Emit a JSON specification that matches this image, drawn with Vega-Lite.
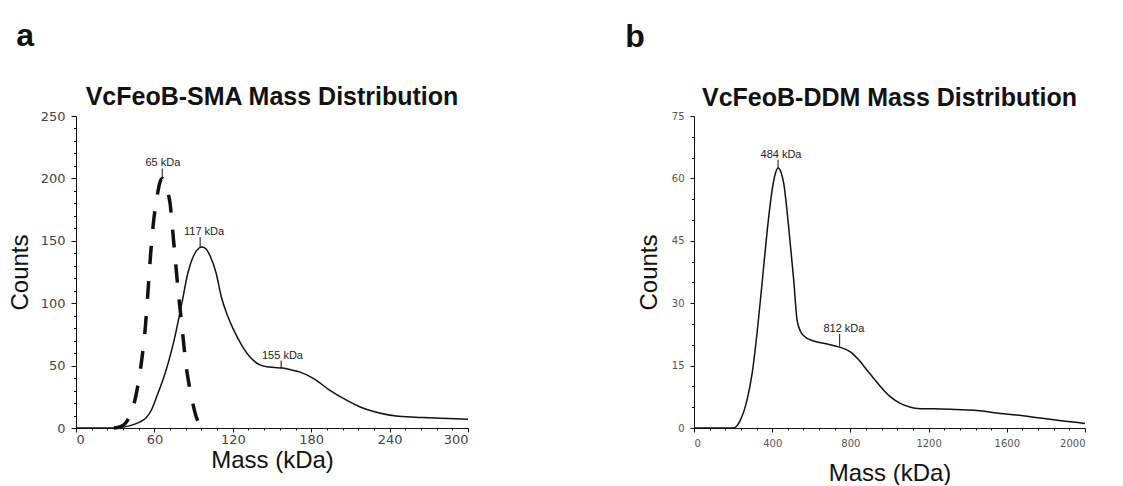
{
  "$schema": "https://vega.github.io/schema/vega-lite/v6.json",
  "background": "white",
  "padding": {"left": 8, "top": 20, "right": 5, "bottom": 0},
  "config": {"view": {"stroke": null}, "concat": {"spacing": 10}},
  "datasets": {
    "sma": [
      {"mass": 0, "count": 0}, {"mass": 15, "count": 0}, {"mass": 30, "count": 0}, {"mass": 33, "count": 0.3},
      {"mass": 40, "count": 1.5}, {"mass": 46, "count": 3.5}, {"mass": 50, "count": 5.5}, {"mass": 53.5, "count": 8},
      {"mass": 58, "count": 15}, {"mass": 61.7, "count": 25}, {"mass": 66, "count": 37}, {"mass": 70, "count": 50},
      {"mass": 75, "count": 70}, {"mass": 81, "count": 100}, {"mass": 85.8, "count": 125}, {"mass": 90, "count": 138},
      {"mass": 94, "count": 144}, {"mass": 96, "count": 145}, {"mass": 99, "count": 144}, {"mass": 103, "count": 137},
      {"mass": 107, "count": 125}, {"mass": 111.5, "count": 104}, {"mass": 116, "count": 90}, {"mass": 120, "count": 80},
      {"mass": 127, "count": 66}, {"mass": 133, "count": 57}, {"mass": 140, "count": 51}, {"mass": 146, "count": 49},
      {"mass": 152, "count": 48.5}, {"mass": 158, "count": 48}, {"mass": 165, "count": 46.5}, {"mass": 171, "count": 45},
      {"mass": 181.6, "count": 39.8}, {"mass": 194, "count": 30.4}, {"mass": 207, "count": 22.4}, {"mass": 220, "count": 15.8},
      {"mass": 233, "count": 11.8}, {"mass": 245, "count": 9.6}, {"mass": 260, "count": 8.7}, {"mass": 271, "count": 8.3},
      {"mass": 285, "count": 7.6}, {"mass": 300, "count": 7}
    ],
    "smaDash": [
      {"mass": 29, "count": 0}, {"mass": 34, "count": 1}, {"mass": 38, "count": 4},
      {"mass": 42, "count": 12}, {"mass": 45, "count": 22}, {"mass": 48, "count": 38}, {"mass": 50, "count": 52},
      {"mass": 53, "count": 80}, {"mass": 55, "count": 108}, {"mass": 57, "count": 138}, {"mass": 59, "count": 162},
      {"mass": 62, "count": 185}, {"mass": 64, "count": 196}, {"mass": 66, "count": 200}, {"mass": 68, "count": 197},
      {"mass": 70, "count": 190}, {"mass": 72, "count": 180}, {"mass": 74, "count": 158}, {"mass": 76, "count": 135},
      {"mass": 78, "count": 112}, {"mass": 80, "count": 92}, {"mass": 82, "count": 72}, {"mass": 84, "count": 52},
      {"mass": 86, "count": 38}, {"mass": 88, "count": 27}, {"mass": 90, "count": 17}, {"mass": 92, "count": 9},
      {"mass": 94, "count": 4}, {"mass": 96, "count": 1}, {"mass": 98, "count": 0}, {"mass": 101, "count": 0}
    ],
    "ddm": [
      {"mass": 0, "count": 0}, {"mass": 100, "count": 0}, {"mass": 200, "count": 0}, {"mass": 215, "count": 0.3},
      {"mass": 237, "count": 1.9}, {"mass": 255, "count": 4}, {"mass": 271, "count": 6.7}, {"mass": 297, "count": 13},
      {"mass": 322, "count": 22.6}, {"mass": 348, "count": 34.7}, {"mass": 373, "count": 46.8}, {"mass": 399, "count": 57},
      {"mass": 415, "count": 61}, {"mass": 430, "count": 62.5}, {"mass": 445, "count": 61.5}, {"mass": 459, "count": 58.8},
      {"mass": 484, "count": 48.4}, {"mass": 510, "count": 35.6}, {"mass": 527, "count": 26}, {"mass": 545, "count": 23.2},
      {"mass": 561, "count": 22.2}, {"mass": 612, "count": 20.9}, {"mass": 680, "count": 20.2}, {"mass": 740, "count": 19.5},
      {"mass": 800, "count": 18.3}, {"mass": 840, "count": 16.5}, {"mass": 885, "count": 13.9}, {"mass": 930, "count": 11.3},
      {"mass": 970, "count": 9.1}, {"mass": 1010, "count": 7.3}, {"mass": 1055, "count": 5.9}, {"mass": 1100, "count": 5.1},
      {"mass": 1141, "count": 4.7}, {"mass": 1230, "count": 4.6}, {"mass": 1311, "count": 4.5}, {"mass": 1448, "count": 4.2},
      {"mass": 1567, "count": 3.5}, {"mass": 1650, "count": 3.1}, {"mass": 1737, "count": 2.6}, {"mass": 1850, "count": 1.9},
      {"mass": 2000, "count": 1.1}
    ],
    "annSma": [
      {"label": "65 kDa", "mass": 66, "tx": 66.5, "ytop": 208, "ybot": 200},
      {"label": "117 kDa", "mass": 95, "tx": 98, "ytop": 153, "ybot": 145},
      {"label": "155 kDa", "mass": 157, "tx": 158, "ytop": 54, "ybot": 48}
    ],
    "annDdm": [
      {"label": "484 kDa", "mass": 430, "tx": 445, "ytop": 64.5, "ybot": 62.5},
      {"label": "812 kDa", "mass": 745, "tx": 767, "ytop": 22.6, "ybot": 19.6}
    ]
  },
  "hconcat": [
    {
      "title": {"text": "a", "anchor": "start", "frame": "bounds", "fontSize": 32, "fontWeight": "bold", "font": "Liberation Sans", "color": "#111", "offset": 32, "dx": 8},
      "vconcat": [
        {
          "width": 392,
          "height": 312,
          "title": {"text": "VcFeoB-SMA Mass Distribution", "fontSize": 25, "fontWeight": "bold", "font": "Liberation Sans", "color": "#111", "offset": 0},
          "layer": [
            {
              "data": {"name": "sma"},
              "mark": {"type": "line", "color": "#111", "strokeWidth": 1.5, "interpolate": "monotone"},
              "encoding": {
                "x": {"field": "mass", "type": "quantitative", "scale": {"domain": [0, 300], "nice": false},
                  "axis": {"values": [0, 12, 24, 36, 48, 60, 72, 84, 96, 108, 120, 132, 144, 156, 168, 180, 192, 204, 216, 228, 240, 252, 264, 276, 288, 300],
                    "tickCount": 1000, "format": "d",
                    "labelExpr": "datum.value % 60 === 0 ? datum.label : ''", "labelOverlap": false,
                    "tickSize": {"condition": {"test": "datum.value % 60 === 0", "value": 4}, "value": 2},
                    "orient": "bottom", "grid": false, "domainColor": "#111", "tickColor": "#111", "labelPadding": 1, "labelFont": "DejaVu Sans", "labelFontSize": 13, "labelColor": "#444", "title": "Mass (kDa)", "titleFont": "Liberation Sans", "titleFontSize": 24, "titleFontWeight": "normal", "titleColor": "#111", "titlePadding": 2}},
                "y": {"field": "count", "type": "quantitative", "scale": {"domain": [0, 250], "nice": false},
                  "axis": {"values": [0, 10, 20, 30, 40, 50, 60, 70, 80, 90, 100, 110, 120, 130, 140, 150, 160, 170, 180, 190, 200, 210, 220, 230, 240, 250],
                    "tickCount": 1000, "format": "d",
                    "labelExpr": "datum.value % 50 === 0 ? datum.label : ''", "labelOverlap": false,
                    "tickSize": {"condition": {"test": "datum.value % 50 === 0", "value": 5}, "value": 2.5},
                    "orient": "left", "grid": false, "domainColor": "#111", "tickColor": "#111", "labelPadding": 6, "labelFont": "DejaVu Sans", "labelFontSize": 13, "labelColor": "#444", "title": "Counts", "titleFont": "Liberation Sans", "titleFontSize": 24, "titleFontWeight": "normal", "titleColor": "#111", "titlePadding": 8}}
              }
            },
            {
              "data": {"name": "smaDash"},
              "mark": {"type": "line", "color": "#111", "strokeWidth": 3.5, "strokeDash": [18, 17], "interpolate": "monotone"},
              "encoding": {
                "x": {"field": "mass", "type": "quantitative"},
                "y": {"field": "count", "type": "quantitative"}
              }
            },
            {
              "data": {"name": "annSma"},
              "mark": {"type": "rule", "color": "#111", "strokeWidth": 1},
              "encoding": {
                "x": {"field": "mass", "type": "quantitative"},
                "y": {"field": "ytop", "type": "quantitative"},
                "y2": {"field": "ybot"}
              }
            },
            {
              "data": {"name": "annSma"},
              "mark": {"type": "text", "font": "Liberation Sans", "fontSize": 11, "color": "#222", "baseline": "bottom", "dy": 0},
              "encoding": {
                "x": {"field": "tx", "type": "quantitative"},
                "y": {"field": "ytop", "type": "quantitative"},
                "text": {"field": "label"}
              }
            }
          ]
        }
      ]
    },
    {
      "title": {"text": "b", "anchor": "start", "frame": "bounds", "fontSize": 32, "fontWeight": "bold", "font": "Liberation Sans", "color": "#111", "offset": 32, "dx": -12},
      "vconcat": [
        {
          "width": 391,
          "height": 312,
          "title": {"text": "VcFeoB-DDM Mass Distribution", "fontSize": 25, "fontWeight": "bold", "font": "Liberation Sans", "color": "#111", "offset": 0},
          "layer": [
            {
              "data": {"name": "ddm"},
              "mark": {"type": "line", "color": "#111", "strokeWidth": 1.5, "interpolate": "monotone"},
              "encoding": {
                "x": {"field": "mass", "type": "quantitative", "scale": {"domain": [0, 2000], "nice": false},
                  "axis": {"values": [0, 80, 160, 240, 320, 400, 480, 560, 640, 720, 800, 880, 960, 1040, 1120, 1200, 1280, 1360, 1440, 1520, 1600, 1680, 1760, 1840, 1920, 2000],
                    "tickCount": 1000, "format": "d",
                    "labelExpr": "datum.value % 400 === 0 ? datum.label : ''", "labelOverlap": false,
                    "tickSize": {"condition": {"test": "datum.value % 400 === 0", "value": 4}, "value": 2},
                    "orient": "bottom", "grid": false, "domainColor": "#111", "tickColor": "#111", "labelPadding": 6, "labelFont": "DejaVu Sans", "labelFontSize": 10, "labelColor": "#555", "title": "Mass (kDa)", "titleFont": "Liberation Sans", "titleFontSize": 24, "titleFontWeight": "normal", "titleColor": "#111", "titlePadding": 13}},
                "y": {"field": "count", "type": "quantitative", "scale": {"domain": [0, 75], "nice": false},
                  "axis": {"values": [0, 5, 10, 15, 20, 25, 30, 35, 40, 45, 50, 55, 60, 65, 70, 75],
                    "tickCount": 1000, "format": "d",
                    "labelExpr": "datum.value % 15 === 0 ? datum.label : ''", "labelOverlap": false,
                    "tickSize": {"condition": {"test": "datum.value % 15 === 0", "value": 4}, "value": 2.5},
                    "orient": "left", "grid": false, "domainColor": "#111", "tickColor": "#111", "labelPadding": 6, "labelFont": "DejaVu Sans", "labelFontSize": 10, "labelColor": "#555", "title": "Counts", "titleFont": "Liberation Sans", "titleFontSize": 24, "titleFontWeight": "normal", "titleColor": "#111", "titlePadding": 10}}
              }
            },
            {
              "data": {"name": "annDdm"},
              "mark": {"type": "rule", "color": "#111", "strokeWidth": 1},
              "encoding": {
                "x": {"field": "mass", "type": "quantitative"},
                "y": {"field": "ytop", "type": "quantitative"},
                "y2": {"field": "ybot"}
              }
            },
            {
              "data": {"name": "annDdm"},
              "mark": {"type": "text", "font": "Liberation Sans", "fontSize": 11, "color": "#222", "baseline": "bottom", "dy": 0},
              "encoding": {
                "x": {"field": "tx", "type": "quantitative"},
                "y": {"field": "ytop", "type": "quantitative"},
                "text": {"field": "label"}
              }
            }
          ]
        }
      ]
    }
  ],
  "spacing": 154
}
